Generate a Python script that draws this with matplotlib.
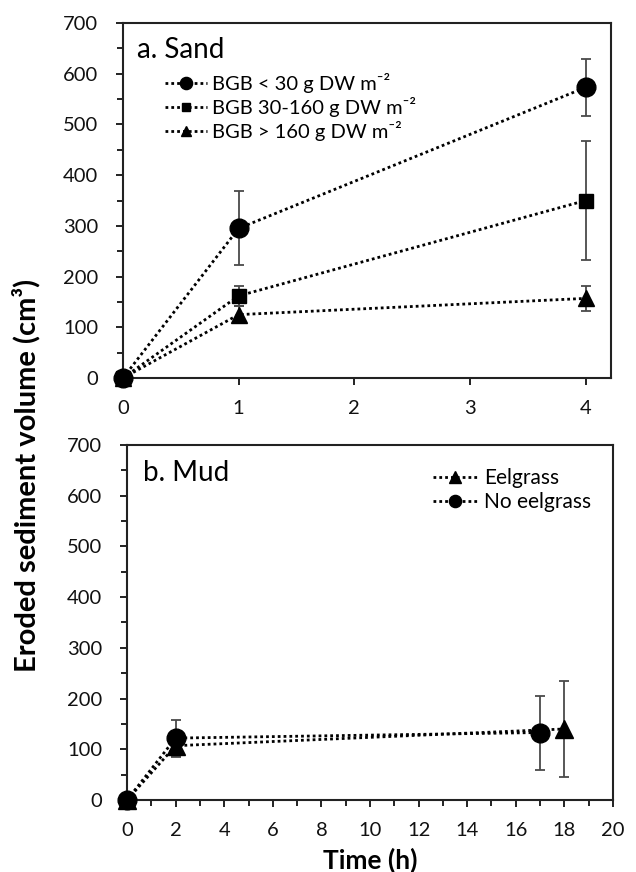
import numpy as np
import matplotlib
matplotlib.use("Agg")
import matplotlib.pyplot as plt
from matplotlib.ticker import MultipleLocator

plt.rcParams['font.family'] = ['Lato', 'DejaVu Sans']

##############################
# DATA
##############################
sand_time = [0, 1, 4]
sand_labels = ['BGB < 30 g DW m\u207b\u00b2',
               'BGB 30-160 g DW m\u207b\u00b2',
               'BGB > 160 g DW m\u207b\u00b2']
sand_low = [0, 295, 573]
sand_low_err = [0, 73, 57]
sand_mid = [0, 162, 350]
sand_mid_err = [0, 20, 117]
sand_high = [0, 125, 157]
sand_high_err = [0, 17, 24]

mud_eel_time = [0, 2, 18]
mud_eel = [0, 107, 140]
mud_eel_err = [0, 22, 95]
mud_no_time = [0, 2, 17]
mud_no = [0, 122, 133]
mud_no_err = [0, 35, 73]

##############################
# PLOT
##############################
LS = (0, (1, 1.1))
ERR_COLOR = '#4a4a4a'


def draw_series(ax, x, y, yerr, marker, ms, label):
    ax.errorbar(x, y, yerr=yerr, fmt='none', ecolor=ERR_COLOR, elinewidth=1.3,
                capsize=3.5, capthick=1.3, zorder=2, clip_on=False)
    line, = ax.plot(x, y, linestyle=LS, linewidth=2.0, color='black', marker=marker,
                    markersize=ms, markerfacecolor='black', markeredgecolor='black',
                    label=label, zorder=3, clip_on=False)
    return line


def style_axes(ax):
    for sp in ax.spines.values():
        sp.set_linewidth(1.5)
        sp.set_color('#222222')
    ax.tick_params(axis='both', which='both', direction='out', colors='#222222',
                   labelcolor='#111111', labelsize=14.5, width=1.4)
    ax.tick_params(which='major', length=5)
    ax.tick_params(which='minor', length=4)
    ax.tick_params(axis='y', which='major', pad=13)
    ax.tick_params(axis='x', which='major', pad=11)
    ax.set_ylim(0, 700)
    ax.yaxis.set_major_locator(MultipleLocator(100))
    ax.yaxis.set_minor_locator(MultipleLocator(50))


fig = plt.figure(figsize=(6.36, 8.72), dpi=100)
ax1 = fig.add_axes([0.1934, 0.5665, 0.7673, 0.4071])
ax2 = fig.add_axes([0.1997, 0.0826, 0.7641, 0.4071])

# a. Sand
h1 = draw_series(ax1, sand_time, sand_low, sand_low_err, 'o', 13.5, sand_labels[0])
h2 = draw_series(ax1, sand_time, sand_mid, sand_mid_err, 's', 9.5, sand_labels[1])
h3 = draw_series(ax1, sand_time, sand_high, sand_high_err, '^', 11, sand_labels[2])
style_axes(ax1)
ax1.set_xlim(0, 4.22)
ax1.set_xticks([0, 1, 2, 3, 4])
ax1.text(0.029, 0.924, 'a. Sand', transform=ax1.transAxes, fontsize=20, va='center', ha='left')
ax1.legend(handles=[h1, h2, h3], loc='upper left', bbox_to_anchor=(0.086, 0.86),
           frameon=False, fontsize=14.5, handlelength=2.1, handletextpad=0.25,
           labelspacing=0.2, borderaxespad=0, borderpad=0, markerscale=0.65)

# b. Mud
e1 = draw_series(ax2, mud_eel_time, mud_eel, mud_eel_err, '^', 12.5, 'Eelgrass')
e2 = draw_series(ax2, mud_no_time, mud_no, mud_no_err, 'o', 13.5, 'No eelgrass')
style_axes(ax2)
ax2.set_xlim(0, 20)
ax2.xaxis.set_major_locator(MultipleLocator(2))
ax2.xaxis.set_minor_locator(MultipleLocator(1))
ax2.text(0.033, 0.921, 'b. Mud', transform=ax2.transAxes, fontsize=20, va='center', ha='left')
ax2.legend(handles=[e1, e2], loc='upper left', bbox_to_anchor=(0.63, 0.935),
           frameon=False, fontsize=15, handlelength=2.1, handletextpad=0.33,
           labelspacing=0.2, borderaxespad=0, borderpad=0, markerscale=0.65)

fig.text(370 / 636, 1 - 860 / 872, 'Time (h)', ha='center', va='center',
         fontsize=19, fontweight='bold')
fig.text(0.041, 0.455, 'Eroded sediment volume (cm\u00b3)', rotation=90,
         ha='center', va='center', fontsize=21, fontweight='bold')

fig.savefig('out.png', dpi=100)
